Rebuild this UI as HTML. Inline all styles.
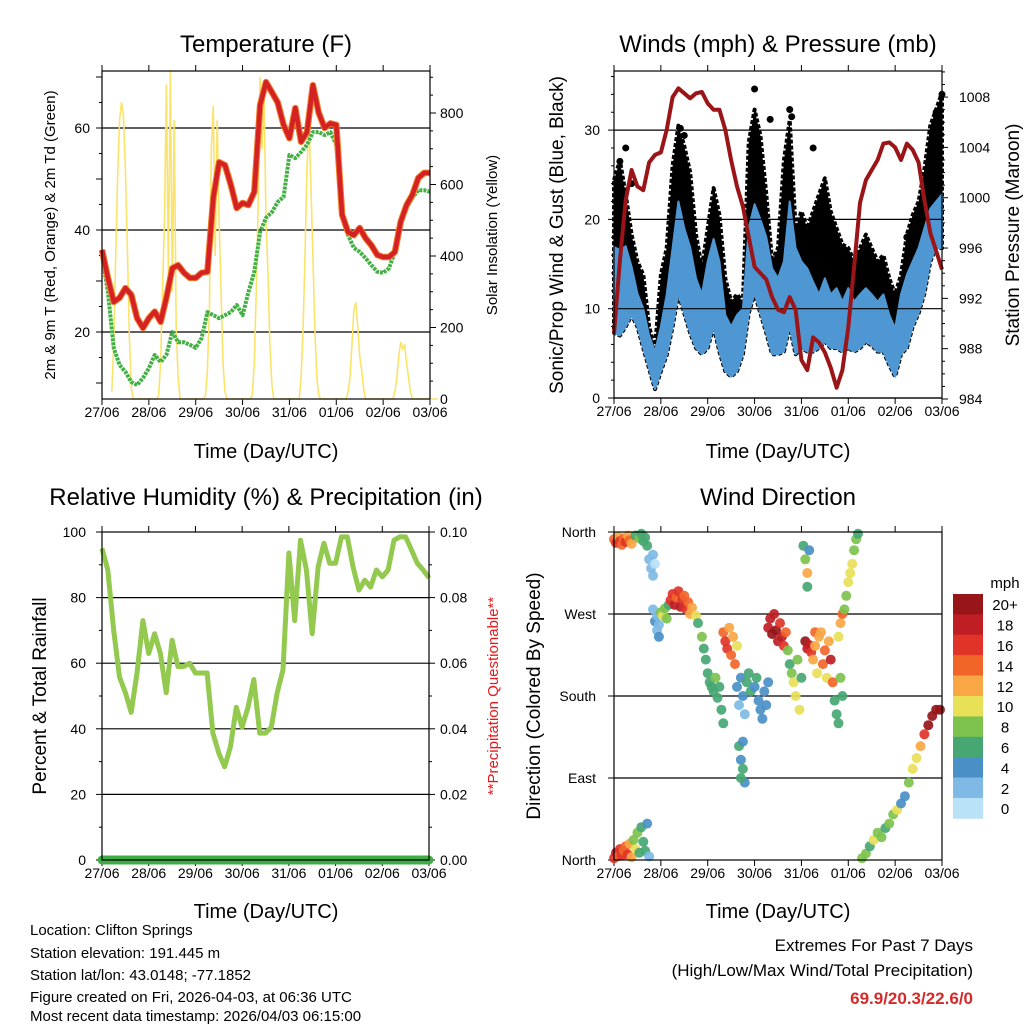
<!DOCTYPE html>
<html><head><meta charset="utf-8"><title>Weather Station Charts</title>
<style>
html,body{margin:0;padding:0;background:#fff;}
svg{display:block;font-family:"Liberation Sans",sans-serif;}
</style></head>
<body>
<svg id="root" width="1024" height="1024" viewBox="0 0 1024 1024" xmlns="http://www.w3.org/2000/svg">
<rect x="0" y="0" width="1024" height="1024" fill="#fff"/>
<text x="266" y="52" font-size="24" text-anchor="middle">Temperature (F)</text>
<text x="778" y="52" font-size="24" text-anchor="middle">Winds (mph) &amp; Pressure (mb)</text>
<text x="266" y="505" font-size="24" text-anchor="middle">Relative Humidity (%) &amp; Precipitation (in)</text>
<text x="778" y="505" font-size="24" text-anchor="middle">Wind Direction</text>
<text x="266" y="458" font-size="20" text-anchor="middle">Time (Day/UTC)</text>
<text x="778" y="458" font-size="20" text-anchor="middle">Time (Day/UTC)</text>
<text x="266" y="918" font-size="20" text-anchor="middle">Time (Day/UTC)</text>
<text x="778" y="918" font-size="20" text-anchor="middle">Time (Day/UTC)</text>
<text transform="translate(55,235) rotate(-90)" font-size="15" text-anchor="middle">2m &amp; 9m T (Red, Orange) &amp; 2m Td (Green)</text>
<text transform="translate(497,235) rotate(-90)" font-size="15" text-anchor="middle">Solar Insolation (Yellow)</text>
<text transform="translate(563,235) rotate(-90)" font-size="19" text-anchor="middle">Sonic/Prop Wind &amp; Gust (Blue, Black)</text>
<text transform="translate(1019,235) rotate(-90)" font-size="19" text-anchor="middle">Station Pressure (Maroon)</text>
<text transform="translate(46,696) rotate(-90)" font-size="19" text-anchor="middle">Percent &amp; Total Rainfall</text>
<text transform="translate(498,696) rotate(-90)" font-size="15" text-anchor="middle" fill="#e8191c">**Precipitation Questionable**</text>
<text transform="translate(540,696) rotate(-90)" font-size="19" text-anchor="middle">Direction (Colored By Speed)</text>
<g font-size="15">
<text x="30" y="935">Location: Clifton Springs</text>
<text x="30" y="958">Station elevation: 191.445 m</text>
<text x="30" y="980">Station lat/lon: 43.0148; -77.1852</text>
<text x="30" y="1002">Figure created on Fri, 2026-04-03, at 06:36 UTC</text>
<text x="30" y="1024" dy="-3">Most recent data timestamp: 2026/04/03 06:15:00</text>
</g>
<g font-size="17" text-anchor="end">
<text x="973" y="951">Extremes For Past 7 Days</text>
<text x="973" y="976">(High/Low/Max Wind/Total Precipitation)</text>
<text x="973" y="1004" fill="#d42a2a" font-weight="bold">69.9/20.3/22.6/0</text>
</g>
<g id="plots"></g>
</svg>
<script>
const dayLabels = ["27/06","28/06","29/06","30/06","31/06","01/06","02/06","03/06"];
const tempT = [36.1,30.6,25.9,26.7,28.6,27.3,22.7,20.8,22.7,24,22,26.7,32.5,33.1,31.6,30.6,30.6,31.6,31.8,46.3,53.3,52.7,48.8,44.3,45.3,44.9,47.5,64.5,69,67,65,60.6,58,63.9,57.3,59.2,68.4,63,60,60.9,60.6,43,39.6,39,40.4,38.4,37,35.1,34.7,34.7,35.7,41.6,44.9,46.9,50.2,51.2,51.2];
const tempTd = [35.1,27.9,16.9,13.5,12.2,10.2,9.6,11,12.9,15.5,14.1,15.5,20,18,18,17.5,16.9,18.8,23.9,23.3,22.7,23.3,23.9,25.3,23.3,27.8,31.8,39.6,42.4,43.5,45.5,46.5,54.7,54.1,55.3,56.7,59.2,59.2,58.6,59.2,56.7,43,39,36.5,35.7,34.5,33.1,31.8,31.6,32.5,35.7,41,44.3,46.3,47.8,47.8,47.5];
const solarDays = [
 [20,150,400,620,780,830,790,640,420,180,30,0],
 [10,100,300,500,880,350,920,300,780,200,60,0],
 [10,80,250,700,820,400,780,500,300,100,20,0],
 [10,100,300,550,900,700,870,500,350,150,40,0],
 [0,60,200,400,650,770,600,400,200,60,10,0],
 [0,20,60,150,250,270,200,120,80,30,0,0],
 [0,20,60,120,160,140,150,100,60,20,0,0]];
const pressure = [989.2,995,999.8,1002.2,1000.9,1000.6,1002.8,1003.4,1003.6,1005.4,1008,1008.7,1008.3,1007.9,1008.3,1008.4,1007.5,1007,1007,1005.4,1003,1000.9,999.3,996.9,994.5,994,993.5,992.1,991.1,990.9,992.1,991.1,987.1,986.3,988.9,988.5,987.7,986.5,984.9,986.3,989.7,994.5,999.6,1001.4,1002.2,1003,1004.3,1004.4,1004,1003,1004.3,1003.8,1002.8,999.8,997.2,995.8,994.3];
const windHigh = [16.9,16.6,17,14.7,11.7,10,7,5.2,8,11.6,16.8,22,19,16.9,13.4,11.6,15.3,17.8,15.3,9.3,8,9.3,10,19,21.7,20,18,14.5,13.4,15.3,22,16.8,15.3,14.5,13,11.6,13.4,11.6,12.3,10.8,12.3,10.8,11.6,12.3,11.6,10.8,11.6,9.3,7.8,11.6,13.8,15.3,16.8,19,21.2,22,22.8];
const windLow = [7.3,7,8,9.3,8,5.6,3.3,1,3,4.8,8,11.7,9.5,7.3,5.6,4.9,5.6,8,5.2,3,2.4,3,4.9,9.5,11.7,9.5,7.3,4.9,4.9,5.2,8,4.9,5.6,5.2,5.2,5.6,6.3,5.6,5.6,5.2,5.6,5.2,5.6,6.3,5.9,5.2,5.2,3.7,2.4,4.9,5.6,8,9.5,11.7,15.3,16.8,16.8];
const gustHigh = [24.4,26.6,22.8,18.3,15.3,13.8,8,5.6,13.8,16.8,26,30.5,28.2,25.3,18.3,14.6,19,23.5,20.5,13.4,10.8,11.6,10.8,28.6,32.3,29.4,22.8,15.3,16.8,26.6,31.1,19,20.9,19,20.9,22.8,24.6,20.9,19,17.2,16.8,15.3,16.8,18.3,16.8,15.3,16,13.4,11.6,13.8,18.3,20.5,22,25.6,30.5,32.3,34.2];
const gustPeakT = [3,6,9,34,36,72,80,90,91,102,105,150,165,168];
const gustPeakV = [26.5,28,24,30.2,29.4,34.6,31.2,32.3,31.5,28,18,18,32,34];
const rh = [95,88.4,70,55.8,51,45,57,73,63,69,63,51,67,59,59,60,57,57,57,38.7,32.6,28.4,34.6,46.6,40.5,46.6,55,38.7,38.7,40.5,51,58,93.6,73,97.5,88.4,69,89.3,96.6,90.5,90.5,98.5,98.5,89.3,82.3,85.3,83.2,88.4,86.3,88.4,97.5,98.5,98.5,94.5,90.5,88.4,86];
const precip = [0,0,0,0,0,0,0,0];
const dirT = [0,1,2,3,4,5,6,7,8,9, 11,13,14,15,16,17, 0,1,2,3,4,5,6,7,8,9,10,11,12,13,14,15,16,17,18, 18,19,20,20,21, 20,21,22,22,23,23, 24,25,26,27,28, 29,30,31,32,33,34,35,36,37,38,39,40,42, 43,45,46,47,48,49,50,51,52,53,54,55,56, 56,57,58,59,60,61,62,63, 63,64,65,66,67,68,69,70,72,73,74,75,76,77,78,79, 64,65,66,67,66,65, 79,80,81,82,83,84,85,86,87,88, 89,90,91,92,93,94,95,96, 97,98,99,99,100, 98,99,100,101,103, 102,103,104,105,106,107,108,109,110,111,112, 113,114,115,116,117, 115,116,117,118,119,120,121,122,123,124,125, 127,129,131,133,135,137,139,141,143,145,147,149,151,153,155,157,159,161,163,165,167];
const dirD = [352,348,355,350,346,353,349,356,351,347, 356,353,358,350,354,345, 2,8,4,12,5,10,15,6,18,3,22,12,30,8,36,20,10,40,4, 330,320,335,312,325, 275,262,252,268,245,258, 272,268,276,265,280, 285,292,280,288,295,278,286,290,275,283,270,277,268, 260,245,232,220,205,195,190,185,200,178,190,165,150, 250,240,232,255,225,245,215,235, 190,170,200,180,160,195,205,185,190,200,175,165,155,185,170,195, 125,110,100,85,130,90, 255,265,248,270,252,240,260,245,235,250, 230,215,205,195,180,220,165,200, 345,330,315,300,340, 240,232,236,228,250, 220,235,205,245,250,215,230,200,240,220,195, 175,160,150,200,180, 245,260,270,275,290,305,315,325,340,352,358, 2,7,15,22,30,25,35,40,50,55,62,70,85,100,112,125,138,148,158,165,165];
const dirS = [14,16,13,17,15,14,16,12,15,13, 7,8,6,7,6,7, 17,18,15,16,17,14,15,16,13,12,9,10,8,7,6,7,6,5,3, 2,3,2,2,1, 3,4,3,2,4,3, 9,10,8,9,7, 16,17,18,15,16,19,17,14,16,15,13,12,10, 7,8,6,7,6,7,6,7,8,7,6,7,7, 14,16,17,13,15,12,14,11, 4,3,5,4,3,6,7,6,5,6,4,4,4,5,5,4, 6,5,6,5,4,6, 18,19,20,18,20,19,17,18,16,15, 8,7,9,10,11,8,10,7, 7,9,12,7,5, 20,19,18,17,14, 12,13,10,13,12,14,14,11,12,19,15, 7,6,7,8,6, 10,12,14,9,8,10,11,10,9,8,7, 8,9,7,10,9,8,7,9,8,10,4,5,8,10,10,13,17,20,21,22,22];
const speedLabels = ["0","2","4","6","8","10","12","14","16","18","20+"];
const speedColors = ["#b9e2f7","#7ebae5","#4a8fc6","#47a772","#7dc24d","#e8e057","#f9a745","#f26529","#e03428","#be1e24","#96161a"];
const tempTicks = [20,40,60];
const solarTicks = [0,200,400,600,800];
const windTicks = [0,10,20,30];
const pressTicks = [984,988,992,996,1000,1004,1008];
const rhTicks = [0,20,40,60,80,100];
const precipTicks = ["0.00","0.02","0.04","0.06","0.08","0.10"];
const dirTicks = ["North","East","South","West","North"];

const NS = "http://www.w3.org/2000/svg";
const plots = document.getElementById("plots");
function mk(tag, attrs, parent) {
  const e = document.createElementNS(NS, tag);
  for (const k in attrs) e.setAttribute(k, attrs[k]);
  (parent || plots).appendChild(e);
  return e;
}
function line(x1,y1,x2,y2,w,parent){ return mk("line",{x1:x1,y1:y1,x2:x2,y2:y2,stroke:"#000","stroke-width":w||1},parent); }
function txt(x,y,s,anchor,size,parent){ const t = mk("text",{x:x,y:y,"font-size":size||14,"text-anchor":anchor||"middle"},parent); t.textContent = s; return t; }
function pts(arr, xf, yf){ return arr.map((v,i)=>xf(i*3).toFixed(1)+","+yf(v).toFixed(1)).join(" "); }

function frame(name, x0, x1, y0, y1) {
  const g = mk("g",{});
  
  
  const xs = t => x0 + t/168*(x1-x0);
  for (let d = 0; d < dayLabels.length; d++) {
    const x = xs(d*24);
    line(x, y1, x, y1+6, 1, g);
    line(x, y0, x, y0-6, 1, g);
    const lb = txt(x, y1+18, dayLabels[d], "middle", 14, g);
    
    
  }
  return {g: g, xs: xs};
}
function boxRect(x0,x1,y0,y1,g){
  const r = mk("rect",{x:x0,y:y0,width:x1-x0,height:y1-y0,fill:"none",stroke:"#000","stroke-width":1.2},g);
  
  
}

(function(){
  const x0=102,x1=430,y0=71,y1=399;
  const f = frame("temperature", x0,x1,y0,y1);
  const yT = v => 332 - (v-20)*5.1;
  const yS = v => 399 - v*0.3575;
  for (const v of tempTicks) {
    const gl = line(x0, yT(v), x1, yT(v), 1.2, f.g);
    
    
    const lb = txt(x0-12, yT(v)+5, String(v), "end", 14, f.g);
    
    
  }
  for (let v = 10; v <= 70; v += 5) line(x0-(v%10===0?6:3), yT(v), x0, yT(v), 1, f.g);
  for (let v = 0; v <= 900; v += 50) line(x1, yS(v), x1+(v%200===0?6:3), yS(v), 1, f.g);
  for (const v of solarTicks) {
    const lb = txt(x1+10, yS(v)+5, String(v), "start", 14, f.g);
    
    
  }
  let sp = [];
  for (let d = 0; d < solarDays.length; d++) {
    for (let h = 0; h < solarDays[d].length; h++) {
      sp.push(f.xs(d*24+5+h).toFixed(1)+","+yS(solarDays[d][h]).toFixed(1));
    }
    sp.push(f.xs(d*24+17).toFixed(1)+","+yS(0).toFixed(1));
    sp.push(f.xs(d*24+28).toFixed(1)+","+yS(0).toFixed(1));
  }
  const sl = mk("polyline",{points:sp.join(" "),fill:"none",stroke:"#fbe36a","stroke-width":1.6},f.g);
  
  
  const td = mk("polyline",{points:pts(tempTd,f.xs,yT),fill:"none",stroke:"#43b043","stroke-width":4,"stroke-dasharray":"3 1","stroke-linejoin":"round"},f.g);
  
  
  const to = mk("polyline",{points:pts(tempT,f.xs,yT),fill:"none",stroke:"#f07a2a","stroke-width":6.5,"stroke-linejoin":"round"},f.g);
  
  
  const tr = mk("polyline",{points:pts(tempT,f.xs,yT),fill:"none",stroke:"#d42224","stroke-width":4.5,"stroke-linejoin":"round"},f.g);
  
  
  boxRect(x0,x1,y0,y1,f.g);
})();

(function(){
  const x0=614,x1=942,y0=71,y1=398;
  const f = frame("winds", x0,x1,y0,y1);
  const yW = v => 398 - v*8.93;
  const yP = v => 399 - (v-984)*12.58;
  for (let v = 0; v <= 36; v += 2) line(x0-(v%10===0?6:3), yW(v), x0, yW(v), 1, f.g);
  for (let v = 984; v <= 1010; v += 1) line(x1, yP(v), x1+(v%4===0?6:3), yP(v), 1, f.g);
  for (const v of pressTicks) {
    const lb = txt(x1+17, yP(v)+5, String(v), "start", 14, f.g);
    
    
  }
  const up = gustHigh.map((v,i)=>f.xs(i*3).toFixed(1)+","+yW(v).toFixed(1));
  const dn = windLow.map((v,i)=>f.xs(i*3).toFixed(1)+","+yW(v).toFixed(1)).reverse();
  const gb = mk("polygon",{points:up.concat(dn).join(" "),fill:"#000",stroke:"#000","stroke-width":4,"stroke-linejoin":"round","stroke-dasharray":"4 2"},f.g);
  
  
  for (let i = 0; i < gustPeakT.length; i++) {
    const c = mk("circle",{cx:f.xs(gustPeakT[i]),cy:yW(gustPeakV[i]),r:3.5,fill:"#000"},f.g);
    
    
  }
  const wu = windHigh.map((v,i)=>f.xs(i*3).toFixed(1)+","+yW(v).toFixed(1));
  const wd = windLow.map((v,i)=>f.xs(i*3).toFixed(1)+","+yW(v).toFixed(1)).reverse();
  const wb = mk("polygon",{points:wu.concat(wd).join(" "),fill:"#4f97d2",stroke:"#4f97d2","stroke-width":2,"stroke-linejoin":"round"},f.g);
  
  
  for (const v of windTicks) {
    const gl = line(x0, yW(v), x1, yW(v), 1.2, f.g);
    
    
    const lb = txt(x0-14, yW(v)+5, String(v), "end", 14, f.g);
    
    
  }
  const pl = mk("polyline",{points:pts(pressure,f.xs,yP),fill:"none",stroke:"#9b1518","stroke-width":4,"stroke-linejoin":"round"},f.g);
  
  
  boxRect(x0,x1,y0,y1,f.g);
})();

(function(){
  const x0=102,x1=429,y0=532,y1=860;
  const f = frame("humidity", x0,x1,y0,y1);
  const yR = v => 860 - v*3.28;
  for (let v = 0; v <= 100; v += 10) { line(x0-(v%20===0?6:3), yR(v), x0, yR(v), 1, f.g); line(x1, yR(v), x1+(v%20===0?6:3), yR(v), 1, f.g); }
  for (let i = 0; i < rhTicks.length; i++) {
    const v = rhTicks[i];
    if (v > 0 && v < 100) {
      const gl = line(x0, yR(v), x1, yR(v), 1.2, f.g);
      
      
    }
    const lb = txt(x0-16, yR(v)+5, String(v), "end", 14, f.g);
    
    
    const rb = txt(x1+11, yR(v)+5, precipTicks[i], "start", 14, f.g);
    
    
  }
  const rl = mk("polyline",{points:pts(rh,f.xs,yR),fill:"none",stroke:"#92c94e","stroke-width":5,"stroke-linejoin":"round"},f.g);
  
  
  const pp = precip.map((v,i)=>f.xs(i*24).toFixed(1)+","+yR(v*1000).toFixed(1)).join(" ");
  const pr = mk("polyline",{points:pp,fill:"none",stroke:"#3fad46","stroke-width":9,"stroke-linecap":"round"},f.g);
  
  
  boxRect(x0,x1,y0,y1,f.g);
})();

(function(){
  const x0=614,x1=942,y0=532,y1=860;
  const f = frame("wind-direction", x0,x1,y0,y1);
  const yD = v => 860 - v*(328/360);
  for (let i = 0; i < dirTicks.length; i++) {
    const v = i*90;
    line(x0-6, yD(v), x0, yD(v), 1, f.g);
    if (i > 0 && i < 4) {
      const gl = line(x0, yD(v), x1, yD(v), 1.2, f.g);
      
      
    }
    const lb = txt(x0-18, yD(v)+5, dirTicks[i], "end", 14, f.g);
    
    
  }
  for (let i = 0; i < dirT.length; i++) {
    const bin = Math.min(10, Math.max(0, Math.floor(dirS[i]/2)));
    const c = mk("circle",{cx:f.xs(dirT[i]).toFixed(1),cy:yD(dirD[i]).toFixed(1),r:5,fill:speedColors[bin],"fill-opacity":0.92},f.g);
    
    
  }
  boxRect(x0,x1,y0,y1,f.g);
  const cb = mk("g",{});
  
  
  const t = txt(1005, 588, "mph", "middle", 15, cb);
  
  
  const top = 594, bh = 20.4;
  for (let i = 0; i < speedColors.length; i++) {
    const k = speedColors.length-1-i;
    const r = mk("rect",{x:953,y:top+i*bh,width:30,height:bh+0.3,fill:speedColors[k]},cb);
    
    
    const lb = txt(1005, top+i*bh+bh/2+6, speedLabels[k], "middle", 15, cb);
    
    
  }
})();
</script>
</body></html>
